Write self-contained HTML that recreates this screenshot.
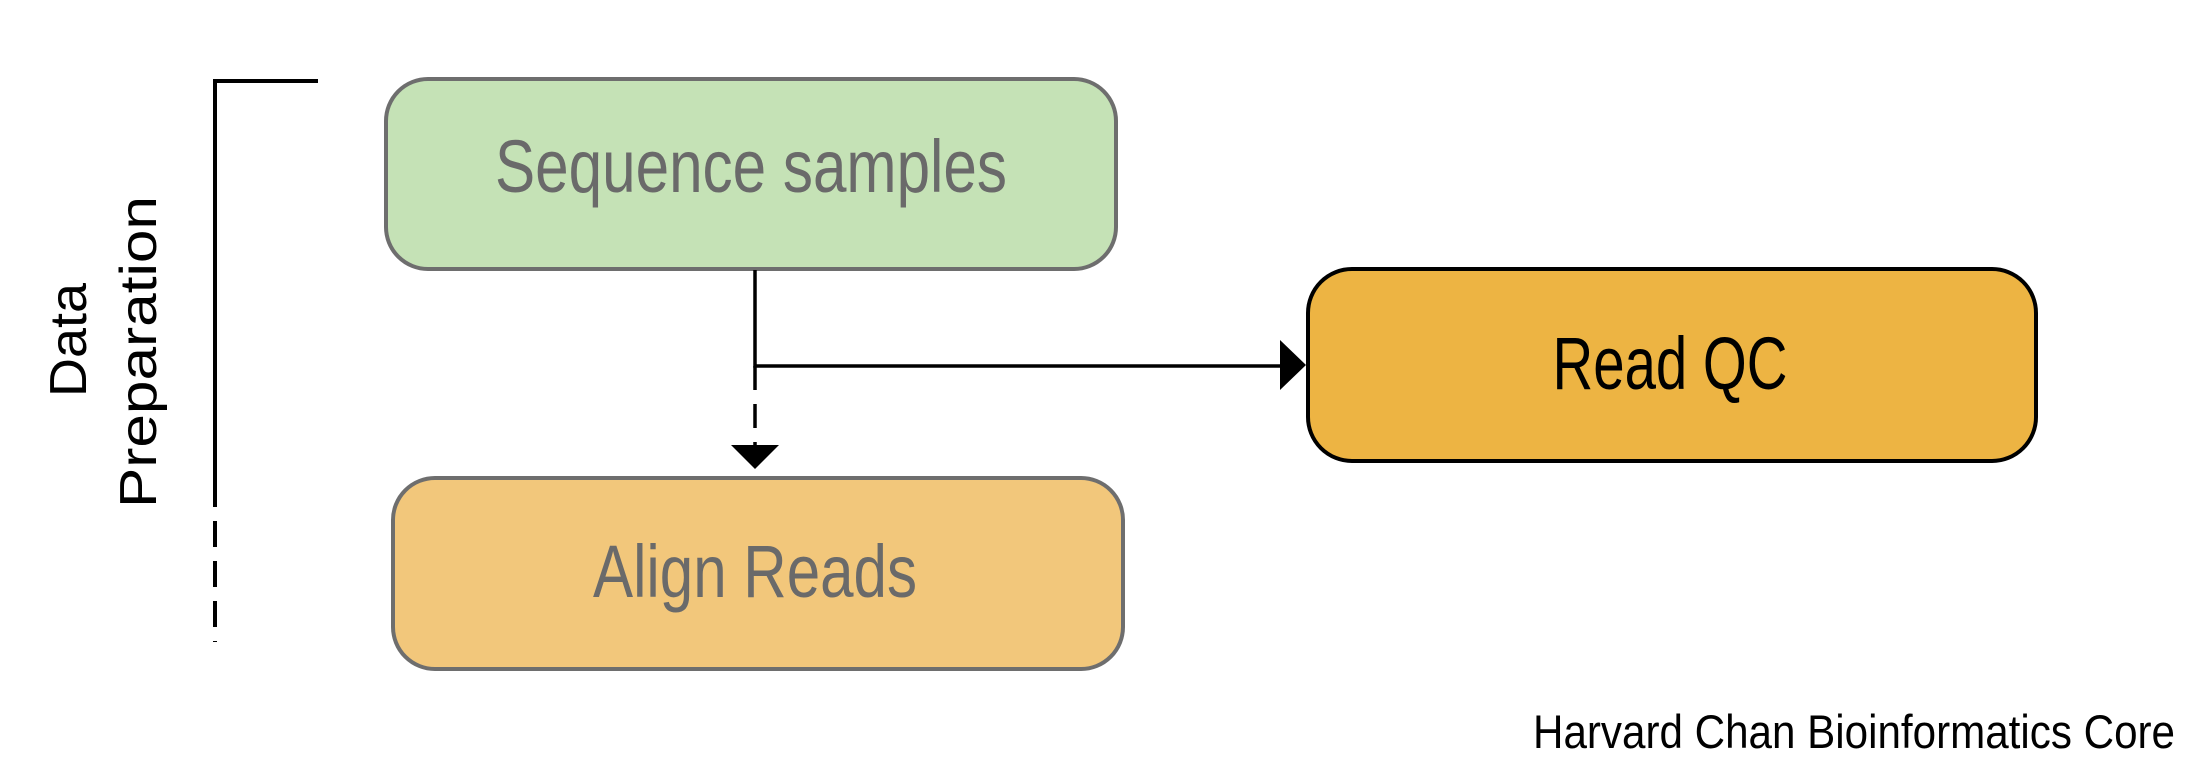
<!DOCTYPE html>
<html><head><meta charset="utf-8"><style>
html,body{margin:0;padding:0;background:#fff;}
svg{display:block;}
</style></head><body>
<svg width="2193" height="779" viewBox="0 0 2193 779" xmlns="http://www.w3.org/2000/svg">
<rect width="2193" height="779" fill="#fff"/>
<!-- bracket -->
<path d="M318 81 H215 V481" fill="none" stroke="#000" stroke-width="4"/>
<path d="M215 481 V642" fill="none" stroke="#000" stroke-width="4" stroke-dasharray="26,14"/>
<text transform="translate(86,340) rotate(-90)" font-family="Liberation Sans, sans-serif" font-size="52" text-anchor="middle" fill="#000" textLength="114" lengthAdjust="spacingAndGlyphs">Data</text>
<text transform="translate(156,352) rotate(-90)" font-family="Liberation Sans, sans-serif" font-size="52" text-anchor="middle" fill="#000" textLength="312" lengthAdjust="spacingAndGlyphs">Preparation</text>
<!-- boxes -->
<rect x="386" y="79" width="730" height="190" rx="42" fill="#c5e2b6" stroke="#6e6e6e" stroke-width="4"/>
<text x="751" y="192" font-family="Liberation Sans, sans-serif" font-size="74" fill="#6a6a6a" text-anchor="middle" textLength="512" lengthAdjust="spacingAndGlyphs">Sequence samples</text>
<rect x="393" y="478" width="730" height="191" rx="42" fill="#f2c77b" stroke="#6e6e6e" stroke-width="4"/>
<text x="755" y="597" font-family="Liberation Sans, sans-serif" font-size="74" fill="#6a6a6a" text-anchor="middle" textLength="324" lengthAdjust="spacingAndGlyphs">Align Reads</text>
<rect x="1308" y="269" width="728" height="192" rx="44" fill="#edb443" stroke="#000" stroke-width="4"/>
<text x="1670" y="389" font-family="Liberation Sans, sans-serif" font-size="74" fill="#000" text-anchor="middle" textLength="235" lengthAdjust="spacingAndGlyphs">Read QC</text>
<!-- connectors -->
<path d="M755 270 V366 H1282" fill="none" stroke="#000" stroke-width="3.5"/>
<path d="M755 366 V445" fill="none" stroke="#000" stroke-width="3.5" stroke-dasharray="24,14"/>
<polygon points="731,445 779,445 755,469" fill="#000"/>
<polygon points="1280,340 1306,365 1280,390" fill="#000"/>
<text x="2175" y="748" font-family="Liberation Sans, sans-serif" font-size="47" fill="#000" text-anchor="end" textLength="642" lengthAdjust="spacingAndGlyphs">Harvard Chan Bioinformatics Core</text>
</svg>
</body></html>
